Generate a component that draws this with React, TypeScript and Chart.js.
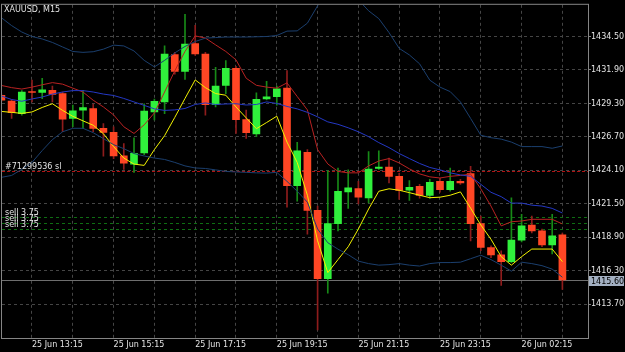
import { useEffect, useRef } from 'react';
import { Chart, registerables } from 'chart.js';
Chart.register(...registerables);

const symbolLabel = 'XAUUSD, M15';
const opens = [1429.93,1429.49,1428.51,1430.22,1430.16,1430.32,1430.06,1428.13,1428.78,1428.90,
  1427.36,1427.05,1425.23,1424.59,1425.45,1428.64,1429.42,1433.09,1431.78,1433.96,
  1433.14,1429.21,1430.70,1432.03,1428.05,1426.93,1429.65,1429.82,1430.49,1422.92,
  1425.51,1420.99,1415.68,1419.96,1422.43,1422.69,1421.97,1424.25,1424.35,1423.64,
  1422.56,1422.87,1422.15,1423.25,1422.61,1423.25,1423.85,1419.96,1418.11,1417.55,
  1417.01,1418.68,1419.86,1419.40,1418.32,1419.09];
const highs = [1430.05,1429.60,1430.30,1431.11,1431.26,1430.65,1430.19,1429.18,1430.32,1429.26,
  1427.74,1427.49,1426.18,1426.64,1429.28,1429.65,1433.78,1433.27,1436.22,1435.37,
  1433.27,1432.11,1432.63,1432.19,1428.78,1430.13,1431.01,1430.65,1431.86,1426.28,
  1425.72,1421.33,1424.08,1424.28,1424.15,1423.25,1425.56,1425.62,1425.05,1423.87,
  1423.31,1423.02,1423.41,1423.48,1424.28,1423.41,1424.41,1420.56,1418.24,1417.86,
  1421.97,1420.69,1420.56,1419.55,1420.69,1419.24];
const lows = [1429.45,1428.13,1428.40,1429.42,1429.67,1429.42,1427.10,1427.49,1427.36,1427.10,
  1425.20,1425.02,1424.18,1423.95,1425.33,1428.03,1428.51,1431.57,1431.16,1433.04,
  1428.39,1429.03,1430.06,1426.97,1426.59,1426.72,1429.57,1429.16,1421.25,1421.71,
  1419.15,1411.70,1414.57,1419.40,1421.15,1421.50,1421.58,1424.18,1423.12,1421.84,
  1421.77,1421.94,1421.92,1422.40,1422.48,1423.02,1418.63,1417.86,1417.32,1415.16,
  1416.93,1418.55,1419.25,1418.17,1417.61,1414.86];
const closes = [1429.55,1428.59,1430.19,1430.15,1430.36,1430.01,1428.08,1428.72,1428.98,1427.36,
  1427.05,1425.23,1424.66,1425.43,1428.70,1429.47,1433.14,1431.78,1433.91,1433.14,
  1429.21,1430.65,1432.03,1428.05,1427.03,1429.62,1429.82,1430.44,1422.92,1425.62,
  1420.99,1415.68,1419.96,1422.48,1422.74,1422.02,1424.20,1424.35,1423.64,1422.54,
  1422.79,1422.15,1423.17,1422.61,1423.25,1423.12,1419.96,1418.11,1417.53,1417.01,
  1418.68,1419.79,1419.40,1418.32,1419.01,1415.60];
const yellowLine = [1428.68,1428.61,1428.53,1428.64,1428.99,1429.28,1428.76,1428.30,1427.95,1427.61,
  1426.95,1425.95,1425.06,1424.59,1424.49,1425.72,1426.80,1428.22,1429.69,1431.13,
  1430.53,1430.07,1429.94,1429.03,1428.18,1427.34,1427.82,1428.31,1426.30,1424.72,
  1422.17,1418.63,1416.16,1417.17,1418.17,1419.55,1421.10,1422.48,1422.67,1422.56,
  1422.37,1422.17,1421.98,1422.02,1422.17,1422.43,1421.17,1419.86,1418.75,1417.40,
  1416.74,1417.40,1417.99,1417.99,1417.99,1417.01];
const redLine = [1430.70,1430.53,1430.42,1430.57,1430.75,1430.92,1430.80,1430.49,1430.19,1429.55,
  1429.03,1428.41,1427.49,1426.97,1427.64,1428.57,1430.19,1431.84,1433.34,1434.55,
  1434.38,1433.85,1433.34,1432.69,1431.26,1430.71,1430.57,1430.49,1430.90,1429.84,
  1428.80,1425.72,1424.60,1424.02,1423.91,1423.91,1424.45,1424.83,1425.02,1424.68,
  1424.22,1423.83,1423.60,1423.51,1423.64,1423.71,1423.81,1422.67,1421.33,1419.79,
  1420.11,1420.17,1420.30,1420.30,1420.30,1419.94];
const bandMiddle = [1429.88,1429.61,1429.47,1429.65,1429.80,1430.03,1430.19,1430.30,1430.30,1430.19,
  1430.03,1429.92,1429.69,1429.42,1429.15,1428.88,1428.76,1428.80,1428.91,1429.22,
  1429.34,1429.22,1429.26,1429.28,1429.18,1429.22,1429.42,1429.30,1429.07,1428.88,
  1428.61,1428.26,1427.87,1427.68,1427.41,1427.10,1426.72,1426.26,1425.87,1425.41,
  1425.02,1424.64,1424.33,1424.14,1423.91,1423.75,1423.64,1423.02,1422.40,1422.06,
  1421.56,1421.56,1421.40,1421.33,1421.15,1420.79];
const bandUpper = [1435.96,1435.35,1434.85,1434.50,1434.31,1434.04,1433.69,1433.34,1433.27,1433.32,
  1433.52,1433.83,1433.77,1433.38,1432.65,1432.14,1432.65,1433.23,1433.73,1434.11,
  1434.38,1434.42,1434.46,1434.46,1434.46,1434.48,1434.50,1434.58,1434.92,1434.94,
  1435.54,1436.89,1437.89,1438.35,1438.20,1437.35,1436.50,1435.89,1434.81,1433.58,
  1433.07,1432.38,1431.11,1430.57,1430.22,1429.42,1428.14,1426.83,1426.64,1426.53,
  1426.30,1425.95,1425.95,1425.95,1425.82,1426.00];
const bandLower = [1423.56,1423.71,1424.18,1424.72,1425.64,1426.49,1427.10,1427.37,1427.37,1427.03,
  1426.57,1426.10,1425.79,1425.41,1425.22,1425.06,1424.95,1424.72,1424.45,1424.29,
  1424.25,1424.14,1424.02,1423.98,1423.95,1423.91,1423.89,1423.95,1423.25,1422.48,
  1421.63,1419.55,1418.48,1417.98,1417.55,1417.05,1416.86,1416.74,1416.78,1416.86,
  1416.74,1416.67,1416.86,1416.94,1416.94,1416.97,1417.24,1417.51,1417.17,1416.74,
  1416.27,1416.97,1416.86,1416.70,1416.43,1415.80];

const priceTicks = [1434.5, 1431.9, 1429.3, 1426.7, 1424.1, 1421.5, 1418.9, 1416.3, 1413.7];
const timeTickIndex = [3, 7, 11, 15, 19, 23, 27, 31, 35, 39, 43, 47, 51, 55];
const timeTickLabels = ['25 Jun 13:15', '', '25 Jun 15:15', '', '25 Jun 17:15', '', '25 Jun 19:15', '',
  '25 Jun 21:15', '', '25 Jun 23:15', '', '26 Jun 02:15', ''];

const currentPrice = 1415.6;
const slPrice = 1424.02;
const slLabel = '#71299536 sl';
const sellPrices = [1420.5, 1420.04, 1419.58];
const sellLabels = ['sell 3.75', 'sell 3.75', 'sell 3.75'];

const Y_MIN = 1411.08;
const Y_MAX = 1436.965;
const X_MIN = 0.059;
const X_MAX = 57.51;

const FONT = { family: 'DejaVu Sans', size: 8 };
const TEXT = '#e4e4e4';
const BULL = '#30f03c';
const BEAR = '#ff4624';
const BULL_WICK = '#178a17';
const BEAR_WICK = '#8e1c1c';

export default function App() {
  const ref = useRef<HTMLCanvasElement | null>(null);
  useEffect(() => {
    document.body.style.margin = '0';
    document.body.style.background = '#000';
    const canvas = ref.current;
    if (!canvas) return;
    const idx = opens.map((_, i) => i);
    const isBull = idx.map(i => closes[i] >= opens[i]);

    const overlay = {
      id: 'mtOverlay',
      beforeDraw(chart: any) {
        const c = chart.ctx;
        c.save();
        c.fillStyle = '#000';
        c.fillRect(0, 0, chart.width, chart.height);
        c.restore();
      },
      beforeDatasetsDraw(chart: any) {
        const c = chart.ctx;
        const a = chart.chartArea;
        const ys = chart.scales.y;
        const hline = (p: number, color: string, dash: number[]) => {
          const y = Math.round(ys.getPixelForValue(p)) + 0.5;
          c.save();
          c.strokeStyle = color;
          c.lineWidth = 1;
          c.setLineDash(dash);
          c.beginPath();
          c.moveTo(a.left, y);
          c.lineTo(a.right, y);
          c.stroke();
          c.restore();
        };
        hline(slPrice, '#b01212', [3, 2]);
        sellPrices.forEach(p => hline(p, '#0e6e12', [3, 3]));
        hline(currentPrice, '#6e6e6e', []);
      },
      afterDraw(chart: any) {
        const c = chart.ctx;
        const a = chart.chartArea;
        const ys = chart.scales.y;
        c.save();
        c.strokeStyle = '#858585';
        c.lineWidth = 1;
        c.setLineDash([]);
        c.strokeRect(a.left - 0.5, a.top - 0.5, a.right - a.left + 1, a.bottom - a.top + 1);
        c.font = '8px "DejaVu Sans"';
        c.fillStyle = TEXT;
        c.textBaseline = 'alphabetic';
        c.textAlign = 'left';
        c.fillText(symbolLabel, 4, 11.5);
        const slY = Math.round(ys.getPixelForValue(slPrice));
        c.fillText(slLabel, 5, slY - 2);
        sellPrices.forEach((p, k) => {
          const y = Math.round(ys.getPixelForValue(p));
          c.fillText(sellLabels[k], 5, y - 2);
        });
        const py = Math.round(ys.getPixelForValue(currentPrice));
        c.fillStyle = '#a3b0c2';
        c.fillRect(a.right + 1, py - 4, 35, 10);
        c.fillStyle = '#000000';
        c.textBaseline = 'alphabetic';
        c.fillText(currentPrice.toFixed(2), a.right + 3, py + 4);
        c.restore();
      },
    };

    const chart = new Chart(canvas, {
      type: 'bar',
      data: {
        datasets: [
          {
            type: 'line',
            data: idx.map(i => ({ x: i, y: bandUpper[i] })),
            borderColor: '#1b3f6e', borderWidth: 1, pointRadius: 0, tension: 0, order: 0,
          } as any,
          {
            type: 'line',
            data: idx.map(i => ({ x: i, y: bandLower[i] })),
            borderColor: '#1b3f6e', borderWidth: 1, pointRadius: 0, tension: 0, order: 0,
          } as any,
          {
            type: 'line',
            data: idx.map(i => ({ x: i, y: bandMiddle[i] })),
            borderColor: '#2438c4', borderWidth: 1, pointRadius: 0, tension: 0, order: 0,
          } as any,
          {
            type: 'line',
            data: idx.map(i => ({ x: i, y: redLine[i] })),
            borderColor: '#b82222', borderWidth: 1, pointRadius: 0, tension: 0, order: 0,
          } as any,
          {
            type: 'line',
            data: idx.map(i => ({ x: i, y: yellowLine[i] })),
            borderColor: '#f2f200', borderWidth: 1, pointRadius: 0, tension: 0, order: 0,
          } as any,
          {
            type: 'bar',
            data: idx.map(i => ({ x: i, y: [opens[i], closes[i]] })),
            backgroundColor: idx.map(i => (isBull[i] ? BULL : BEAR)),
            borderWidth: 0,
            barThickness: 7,
            minBarLength: 1,
            grouped: false,
            order: 1,
          } as any,
          {
            type: 'bar',
            data: idx.map(i => ({ x: i, y: [lows[i], highs[i]] })),
            backgroundColor: idx.map(i => (isBull[i] ? BULL_WICK : BEAR_WICK)),
            borderWidth: 0,
            barThickness: 1,
            grouped: false,
            order: 2,
          } as any,
        ],
      },
      plugins: [overlay],
      options: {
        animation: false,
        responsive: false,
        devicePixelRatio: 1,
        layout: { padding: { left: 2, top: 2, right: 0, bottom: 0 } },
        plugins: { legend: { display: false }, tooltip: { enabled: false } },
        scales: {
          x: {
            type: 'linear',
            offset: false,
            min: X_MIN,
            max: X_MAX,
            afterBuildTicks: (axis: any) => {
              axis.ticks = timeTickIndex.map(v => ({ value: v }));
            },
            afterFit: (axis: any) => { axis.height = 14; },
            grid: { color: '#454545', lineWidth: 1, drawTicks: false, offset: false },
            border: { display: false, dash: [3, 3] },
            ticks: {
              autoSkip: false,
              maxRotation: 0,
              minRotation: 0,
              align: 'start',
              padding: 2,
              color: TEXT,
              font: FONT,
              callback: (_v: any, i: number) => timeTickLabels[i],
            },
          },
          y: {
            type: 'linear',
            position: 'right',
            min: Y_MIN,
            max: Y_MAX,
            afterBuildTicks: (axis: any) => {
              axis.ticks = priceTicks.map(v => ({ value: v }));
            },
            afterFit: (axis: any) => { axis.width = 37; },
            grid: { color: '#454545', lineWidth: 1, drawTicks: true, tickLength: 3, tickColor: '#858585', tickBorderDash: [] },
            border: { display: false, dash: [3, 3] },
            ticks: {
              padding: 0,
              color: TEXT,
              font: FONT,
              callback: (v: any) => Number(v).toFixed(2),
            },
          },
        },
      } as any,
    });
    return () => chart.destroy();
  }, []);
  return <canvas ref={ref} width={625} height={352} style={{ display: 'block' }} />;
}
